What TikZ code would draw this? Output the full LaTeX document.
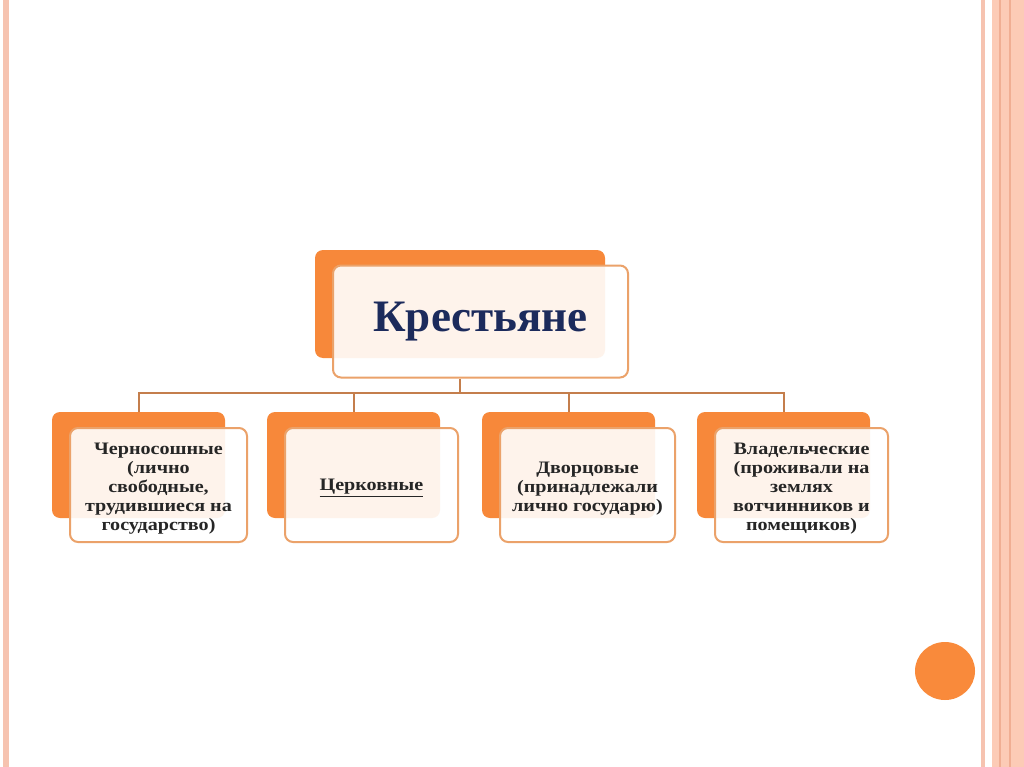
\documentclass[tikz,border=0pt]{standalone}
\usepackage{fontspec}
\setmainfont{Liberation Serif}
\newfontfamily\widefont[FakeStretch=1.15]{Liberation Serif}
\begin{document}
\begin{tikzpicture}[x=1pt,y=-1pt,
  backbox/.style={fill=boxorange,rounded corners=8pt},
  frontbox/.style={fill=white,fill opacity=0.9,text opacity=1,draw=boxedge,line width=2pt,rounded corners=8pt,minimum height=114pt},
  conn/.style={draw=connbrown,line width=2pt},
  childtxt/.style={font=\widefont\bfseries\fontsize{17.5}{19}\selectfont,text=txtgray,align=center}]
\definecolor{boxorange}{HTML}{F7883A}
\definecolor{boxedge}{HTML}{EBA26A}
\definecolor{connbrown}{HTML}{C47E4C}
\definecolor{txtgray}{HTML}{262626}
\definecolor{navy}{HTML}{1C2B5C}
\definecolor{stripe}{HTML}{F6C3B0}
\definecolor{stripewide}{HTML}{FCCBB6}
\definecolor{stripedark}{HTML}{F0AE93}
\definecolor{dot}{HTML}{F98A3B}
\useasboundingbox (0,0) rectangle (1024,767);
\fill[white] (0,0) rectangle (1024,767);
% stripes
\fill[stripe] (3,0) rectangle (9,767);
\fill[stripe] (981,0) rectangle (985,767);
\fill[stripewide] (992,0) rectangle (1024,767);
\draw[stripedark,line width=1.5pt] (1000,0) -- (1000,767);
\draw[stripedark,line width=1.5pt] (1010,0) -- (1010,767);
\fill[dot] (945,671) ellipse [x radius=30, y radius=29];
% top box
\node[backbox,minimum width=290pt,minimum height=108pt] (topback) at (460,304) {};
\node[frontbox,minimum width=295pt,minimum height=112pt,
  font=\bfseries\fontsize{45}{50}\selectfont,text=navy] (top) at (480.5,321.5) {\raisebox{-4pt}{Крестьяне}};
\coordinate (bus) at (460,393);
% children
\foreach \n/\bx in {c1/138.5, c2/353.5, c3/568.5, c4/783.5}{
  \node[backbox,minimum width=173pt,minimum height=106pt] (\n back) at (\bx,465) {};
}
\node[frontbox,minimum width=177pt] (c1) at (158.5,485) {};
\node[frontbox,minimum width=173pt] (c2) at (371.5,485) {};
\node[frontbox,minimum width=175pt] (c3) at (587.5,485) {};
\node[frontbox,minimum width=173pt] (c4) at (801.5,485) {};
\node[childtxt] (c1t) at ([yshift=-4pt]c1.center)
  {Черносошные\\(лично\\свободные,\\трудившиеся на\\государство)};
\node[childtxt] (c2t) at ([yshift=-3pt]c2.center) {\underline{Церковные}};
\node[childtxt] (c3t) at ([yshift=-4pt]c3.center)
  {Дворцовые\\(принадлежали\\лично государю)};
\node[childtxt] (c4t) at ([yshift=-4pt]c4.center)
  {Владельческие\\(проживали на\\землях\\вотчинников и\\помещиков)};
% connectors
\draw[conn] (top.south -| bus) -- (bus);
\foreach \n in {c1,c2,c3,c4}{
  \draw[conn] (bus) -| (\n back.north);
}
\end{tikzpicture}
\end{document}
